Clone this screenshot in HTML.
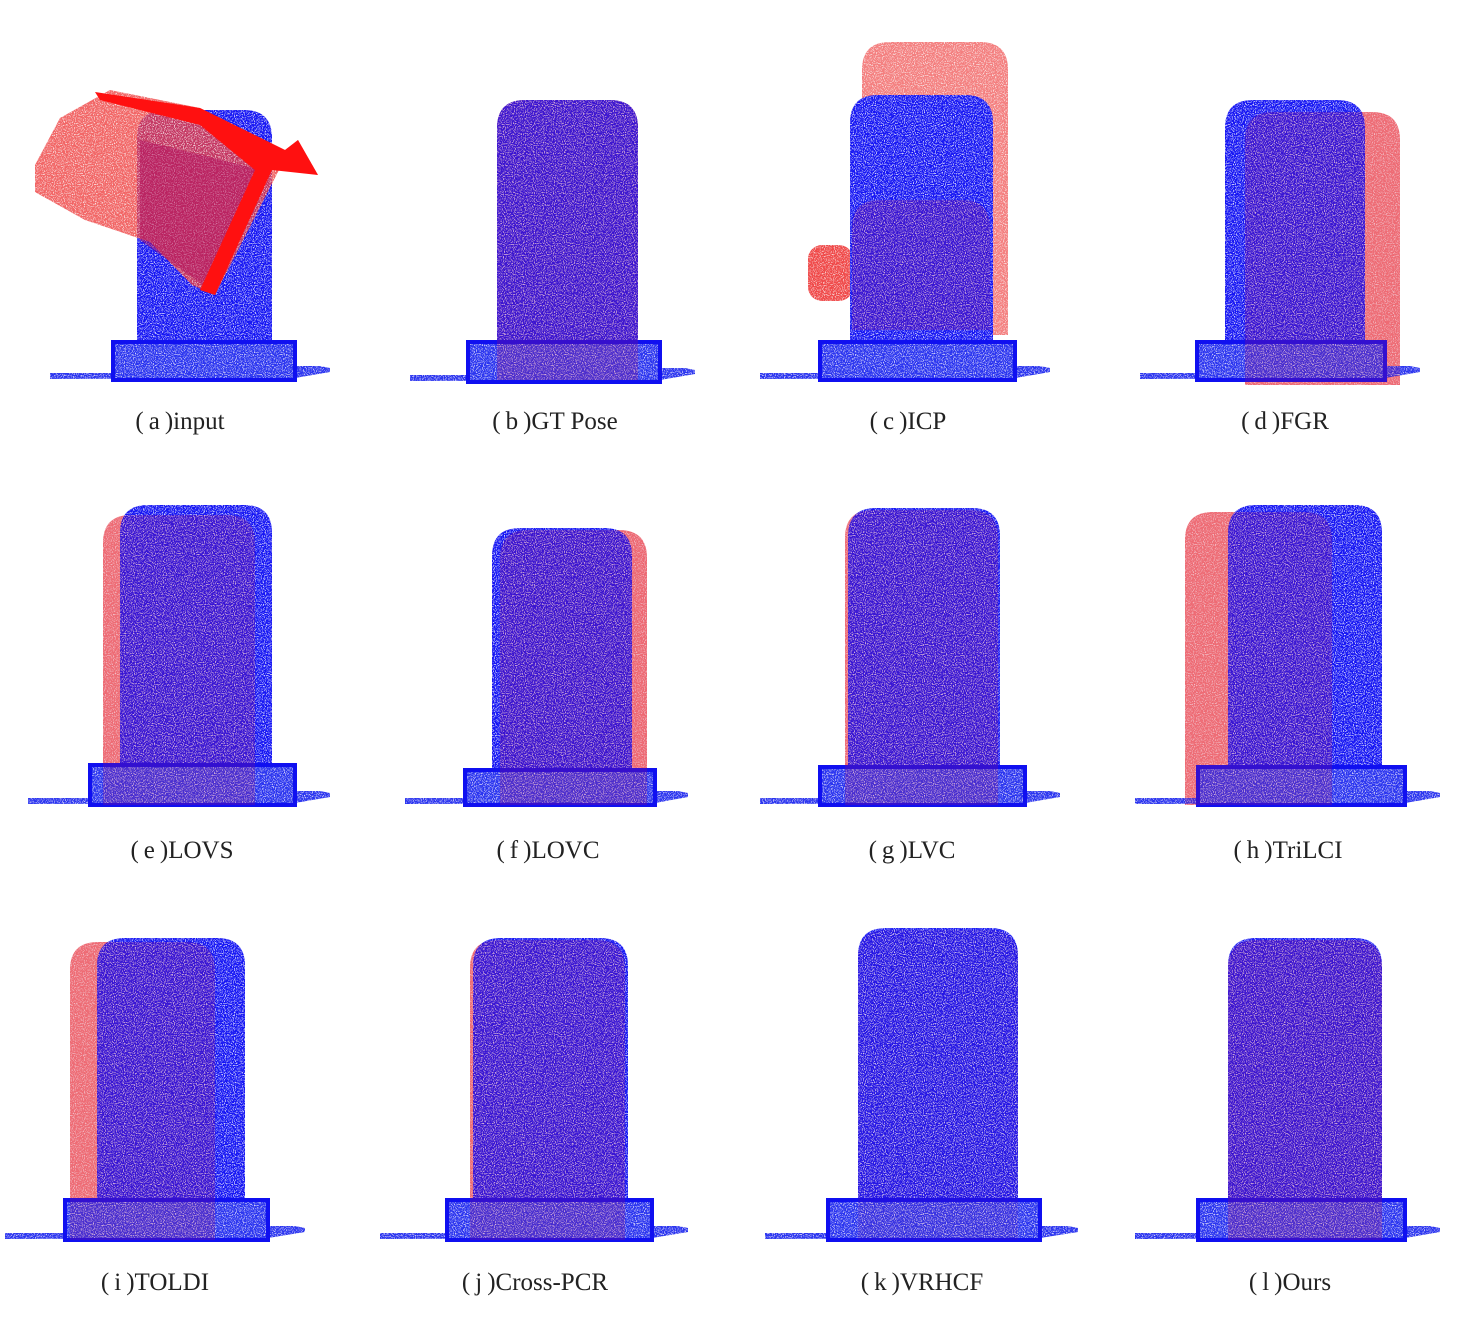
<!DOCTYPE html>
<html><head><meta charset="utf-8"><style>
html,body{margin:0;padding:0;background:#fff;width:1471px;height:1328px;overflow:hidden}
svg{display:block}
text{font-family:"Liberation Serif","Noto Serif CJK SC",serif;font-size:25px;fill:#222}
</style></head><body>
<svg id="s" width="1471" height="1328" xmlns="http://www.w3.org/2000/svg">
<defs>
<filter id="n" x="0" y="0" width="100%" height="100%">
<feTurbulence type="fractalNoise" baseFrequency="0.9" numOctaves="1" seed="3" result="t"/>
<feColorMatrix in="t" type="matrix" values="0 0 0 0 1  0 0 0 0 1  0 0 0 0 1  0 0 0 -3 1.45" result="w"/>
<feComposite in="w" in2="SourceGraphic" operator="in" result="wm"/>
<feMerge><feMergeNode in="SourceGraphic"/><feMergeNode in="wm"/></feMerge>
</filter>
</defs>
<g id="g"></g>
</svg>
<script>
function tomb(l,r,t,b,fill,op,f){var k=28;return '<path d="M'+l+','+b+' L'+l+','+(t+k)+' Q'+l+','+t+' '+(l+k)+','+t+' L'+(r-k)+','+t+' Q'+r+','+t+' '+r+','+(t+k)+' L'+r+','+b+' Z" fill="'+fill+'" opacity="'+op+'"'+(f===false?'':' filter="url(#n)"')+'/>';}
function base(bl,br,bt,bb,fl,fr){var y=bb-4;return '<path d="M'+fl+','+(y-3)+' L'+bl+','+(y-3)+' L'+bl+','+bt+' L'+br+','+bt+' L'+br+','+(y-10)+' L'+(fr-10)+','+(y-10)+' L'+fr+','+(y-8)+' L'+fr+','+(y-4)+' L'+br+','+(y+2)+' L'+fl+','+(y+3)+' Z" fill="#2a35f0" filter="url(#n)"/>'+
'<rect x="'+bl+'" y="'+bt+'" width="'+(br-bl)+'" height="'+(bb-bt)+'" fill="none" stroke="#1010f0" stroke-width="4"/>';}
var P=[
[137,272,110,342,380,113,295,50,330,null],
[497,638,100,342,382,468,660,410,695,[497,638,100,380,.2]],
[850,993,95,342,380,820,1015,760,1050,null],
[1225,1365,100,342,380,1197,1385,1140,1420,[1245,1400,112,385,.18]],
[120,272,505,765,805,90,295,28,330,[103,255,515,805,.18]],
[492,632,528,770,805,465,655,405,688,[500,647,530,805,.2]],
[848,1000,508,767,805,820,1025,760,1060,[845,998,510,805,.18]],
[1228,1382,505,767,805,1198,1405,1135,1440,[1185,1332,512,805,.18]],
[97,245,938,1200,1240,65,268,5,305,[70,215,942,1240,.18]],
[473,628,938,1200,1240,447,652,380,688,[470,625,940,1240,.18]],
[858,1018,928,1200,1240,828,1040,765,1078,[858,1018,930,1240,.08]],
[1228,1382,938,1200,1240,1198,1405,1135,1440,[1228,1382,940,1240,.2]]
];
var h='';
P.forEach(function(p,i){
 if(p[9]) h+=tomb(p[9][0],p[9][1],p[9][2],p[9][3],'#f04848',.7);
 if(i==2){h+=tomb(862,1008,42,335,'#f04848',.7);h+='<rect x="808" y="245" width="45" height="56" rx="14" fill="#f04848" filter="url(#n)"/>';}
 h+=tomb(p[0],p[1],p[2],p[3]+5,'#1414f4',1);
 h+=base(p[5],p[6],p[3],p[4],p[7],p[8]);
 if(p[9]) h+=tomb(p[9][0],p[9][1],p[9][2],p[9][3],'#d01040',p[9][4],false);
 if(i==2) h+=tomb(852,990,200,330,'#d01040',.18,false);
});
h+='<path d="M35,165 L60,118 L110,90 L200,108 L285,150 L298,140 L318,175 L280,168 L215,295 L192,285 L150,242 L85,220 L35,192 Z" fill="#f04040" opacity=".8" filter="url(#n)"/>';
h+='<path d="M140,140 L270,172 L210,290 L140,240 Z" fill="#b01060" opacity=".5"/>';
h+='<path d="M95,92 L200,108 L285,150 L298,140 L318,175 L272,170 L215,295 L200,290 L255,170 L200,125 L100,100 Z" fill="#ff1010"/>';
var C=[[180,421,'a','input'],[555,421,'b','GT Pose'],[908,421,'c','ICP'],[1285,421,'d','FGR'],
[182,850,'e','LOVS'],[548,850,'f','LOVC'],[912,850,'g','LVC'],[1288,850,'h','TriLCI'],
[155,1282,'i','TOLDI'],[535,1282,'j','Cross-PCR'],[922,1282,'k','VRHCF'],[1290,1282,'l','Ours']];
C.forEach(function(c){h+='<text x="'+c[0]+'" y="'+(c[1]+8)+'" text-anchor="middle">(\u2009'+c[2]+'\u2009)'+c[3]+'</text>';});
document.getElementById('g').innerHTML=h;
</script>
</body></html>
